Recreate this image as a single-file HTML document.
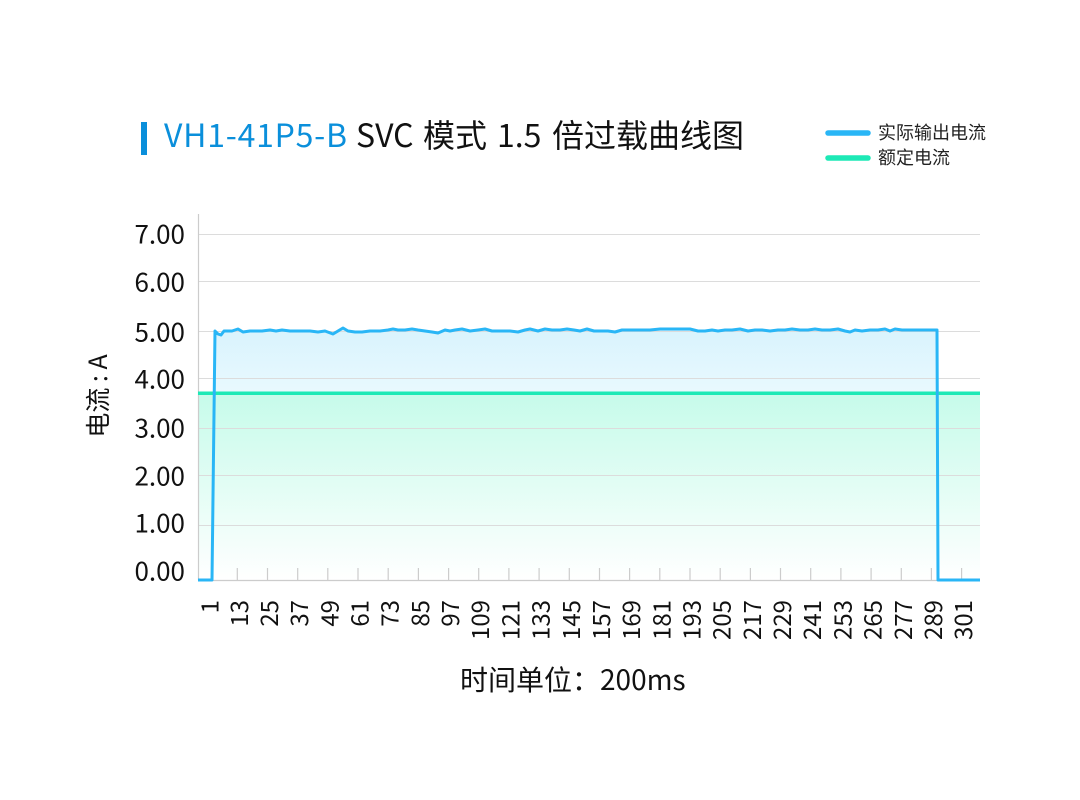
<!DOCTYPE html>
<html>
<head>
<meta charset="utf-8">
<style>
  html,body{margin:0;padding:0;background:#fff;}
  body{width:1080px;height:800px;overflow:hidden;}
  svg{display:block;}
  text{font-family:"Noto Sans CJK SC","Liberation Sans",sans-serif;}
</style>
</head>
<body>
<svg width="1080" height="800" viewBox="0 0 1080 800" xmlns="http://www.w3.org/2000/svg">
  <defs>
    <linearGradient id="gb" gradientUnits="userSpaceOnUse" x1="0" y1="328" x2="0" y2="580">
      <stop offset="0" stop-color="#d8f3fd"/>
      <stop offset="0.26" stop-color="#e9f9fe"/>
      <stop offset="1" stop-color="#ffffff"/>
    </linearGradient>
    <linearGradient id="gg" gradientUnits="userSpaceOnUse" x1="0" y1="393" x2="0" y2="580">
      <stop offset="0" stop-color="#c6fbea"/>
      <stop offset="1" stop-color="#ffffff"/>
    </linearGradient>
  </defs>

  <!-- Title -->
  <rect x="141" y="122" width="6" height="33" fill="#0a8fdb"/>
  <g font-size="32" fill="#111">
    <text x="164" y="147" fill="#0a8fdb" textLength="183" lengthAdjust="spacing">VH1-41P5-B</text>
    <text x="356" y="147">SVC</text>
    <text x="423" y="147">模式</text>
    <text x="497" y="147">1.5</text>
    <text x="552" y="147">倍过载曲线图</text>
  </g>

  <!-- Legend -->
  <line x1="828" y1="133" x2="868" y2="133" stroke="#29b6f6" stroke-width="5.5" stroke-linecap="round"/>
  <text x="878" y="139" font-size="18" fill="#222">实际输出电流</text>
  <line x1="828" y1="158" x2="868" y2="158" stroke="#1de9b6" stroke-width="5.5" stroke-linecap="round"/>
  <text x="878" y="164" font-size="18" fill="#222">额定电流</text>

  <!-- Areas -->
  <polygon fill="url(#gb)" points="212,580 215,331 218,334 221,335 224,331 232,331 238,329 243,332 250,331 262,331 270,330 276,331 282,330 290,331 300,331 310,331 318,332 325,331 333,334 338,331 343,328 348,331 355,332 362,332 370,331 380,331 388,330 393,329 398,330 405,330 412,329 418,330 425,331 432,332 438,333 445,330 450,331 455,330 462,329 470,331 478,330 485,329 492,331 500,331 510,331 518,332 525,330 530,329 538,331 545,329 552,330 560,330 567,329 574,330 580,331 587,329 594,331 600,331 608,331 615,332 622,330 630,330 640,330 650,330 660,329 670,329 680,329 690,329 698,331 705,331 712,330 718,331 725,330 732,330 740,329 748,331 755,330 762,330 770,331 778,330 785,330 792,329 800,330 808,330 815,329 822,330 830,330 838,329 845,331 850,332 855,330 862,331 870,330 878,330 885,329 890,331 895,329 902,330 910,330 920,330 930,330 937,330 938,580"/>
  <rect x="198" y="393" width="782" height="187" fill="url(#gg)"/>

  <!-- Grid -->
  <g stroke="#dcdcdc" stroke-width="1">
    <line x1="199" y1="234.5" x2="980" y2="234.5"/>
    <line x1="199" y1="281.5" x2="980" y2="281.5"/>
    <line x1="199" y1="331.5" x2="980" y2="331.5"/>
    <line x1="199" y1="378.5" x2="980" y2="378.5"/>
    <line x1="199" y1="428.5" x2="980" y2="428.5"/>
    <line x1="199" y1="475.5" x2="980" y2="475.5"/>
    <line x1="199" y1="525.5" x2="980" y2="525.5"/>
  </g>

  <!-- Axes -->
  <g stroke="#cccccc" stroke-width="1.2">
    <line x1="198.5" y1="214" x2="198.5" y2="580"/>
    <line x1="198" y1="580.5" x2="980" y2="580.5"/>
    <line x1="237.3" y1="568" x2="237.3" y2="580"/>
    <line x1="267.5" y1="568" x2="267.5" y2="580"/>
    <line x1="297.7" y1="568" x2="297.7" y2="580"/>
    <line x1="327.8" y1="568" x2="327.8" y2="580"/>
    <line x1="358.0" y1="568" x2="358.0" y2="580"/>
    <line x1="388.2" y1="568" x2="388.2" y2="580"/>
    <line x1="418.4" y1="568" x2="418.4" y2="580"/>
    <line x1="448.6" y1="568" x2="448.6" y2="580"/>
    <line x1="478.7" y1="568" x2="478.7" y2="580"/>
    <line x1="508.9" y1="568" x2="508.9" y2="580"/>
    <line x1="539.1" y1="568" x2="539.1" y2="580"/>
    <line x1="569.3" y1="568" x2="569.3" y2="580"/>
    <line x1="599.5" y1="568" x2="599.5" y2="580"/>
    <line x1="629.6" y1="568" x2="629.6" y2="580"/>
    <line x1="659.8" y1="568" x2="659.8" y2="580"/>
    <line x1="690.0" y1="568" x2="690.0" y2="580"/>
    <line x1="720.2" y1="568" x2="720.2" y2="580"/>
    <line x1="750.4" y1="568" x2="750.4" y2="580"/>
    <line x1="780.5" y1="568" x2="780.5" y2="580"/>
    <line x1="810.7" y1="568" x2="810.7" y2="580"/>
    <line x1="840.9" y1="568" x2="840.9" y2="580"/>
    <line x1="871.1" y1="568" x2="871.1" y2="580"/>
    <line x1="901.3" y1="568" x2="901.3" y2="580"/>
    <line x1="931.4" y1="568" x2="931.4" y2="580"/>
    <line x1="961.6" y1="568" x2="961.6" y2="580"/>
  </g>

  <!-- Rated current line -->
  <line x1="198" y1="393.3" x2="980" y2="393.3" stroke="#1de9b6" stroke-width="3.5"/>

  <!-- Actual current line -->
  <polyline fill="none" stroke="#29b6f6" stroke-width="3" stroke-linejoin="round" points="198,580 212,580 215,331 218,334 221,335 224,331 232,331 238,329 243,332 250,331 262,331 270,330 276,331 282,330 290,331 300,331 310,331 318,332 325,331 333,334 338,331 343,328 348,331 355,332 362,332 370,331 380,331 388,330 393,329 398,330 405,330 412,329 418,330 425,331 432,332 438,333 445,330 450,331 455,330 462,329 470,331 478,330 485,329 492,331 500,331 510,331 518,332 525,330 530,329 538,331 545,329 552,330 560,330 567,329 574,330 580,331 587,329 594,331 600,331 608,331 615,332 622,330 630,330 640,330 650,330 660,329 670,329 680,329 690,329 698,331 705,331 712,330 718,331 725,330 732,330 740,329 748,331 755,330 762,330 770,331 778,330 785,330 792,329 800,330 808,330 815,329 822,330 830,330 838,329 845,331 850,332 855,330 862,331 870,330 878,330 885,329 890,331 895,329 902,330 910,330 920,330 930,330 937,330 938,580 980,580"/>

  <!-- Y labels -->
  <g font-size="26" fill="#111" text-anchor="end" dominant-baseline="central">
    <text x="185" y="233">7.00</text>
    <text x="185" y="281">6.00</text>
    <text x="185" y="331">5.00</text>
    <text x="185" y="378">4.00</text>
    <text x="185" y="427">3.00</text>
    <text x="185" y="475">2.00</text>
    <text x="185" y="522">1.00</text>
    <text x="185" y="570">0.00</text>
  </g>

  <!-- X labels -->
  <g font-size="24" fill="#111" text-anchor="end" dominant-baseline="central">
    <text transform="translate(208,600) rotate(-90)">1</text>
    <text transform="translate(237.3,600) rotate(-90)">13</text>
    <text transform="translate(267.5,600) rotate(-90)">25</text>
    <text transform="translate(297.7,600) rotate(-90)">37</text>
    <text transform="translate(327.8,600) rotate(-90)">49</text>
    <text transform="translate(358.0,600) rotate(-90)">61</text>
    <text transform="translate(388.2,600) rotate(-90)">73</text>
    <text transform="translate(418.4,600) rotate(-90)">85</text>
    <text transform="translate(448.6,600) rotate(-90)">97</text>
    <text transform="translate(478.7,600) rotate(-90)">109</text>
    <text transform="translate(508.9,600) rotate(-90)">121</text>
    <text transform="translate(539.1,600) rotate(-90)">133</text>
    <text transform="translate(569.3,600) rotate(-90)">145</text>
    <text transform="translate(599.5,600) rotate(-90)">157</text>
    <text transform="translate(629.6,600) rotate(-90)">169</text>
    <text transform="translate(659.8,600) rotate(-90)">181</text>
    <text transform="translate(690.0,600) rotate(-90)">193</text>
    <text transform="translate(720.2,600) rotate(-90)">205</text>
    <text transform="translate(750.4,600) rotate(-90)">217</text>
    <text transform="translate(780.5,600) rotate(-90)">229</text>
    <text transform="translate(810.7,600) rotate(-90)">241</text>
    <text transform="translate(840.9,600) rotate(-90)">253</text>
    <text transform="translate(871.1,600) rotate(-90)">265</text>
    <text transform="translate(901.3,600) rotate(-90)">277</text>
    <text transform="translate(931.4,600) rotate(-90)">289</text>
    <text transform="translate(961.6,600) rotate(-90)">301</text>
  </g>

  <!-- Axis titles -->
  <text transform="translate(97,396) rotate(-90)" font-size="25" fill="#111" text-anchor="middle" dominant-baseline="central">电流 : A</text>
  <text x="460" y="690" font-size="28" fill="#111">时间单位：200ms</text>
</svg>
</body>
</html>
